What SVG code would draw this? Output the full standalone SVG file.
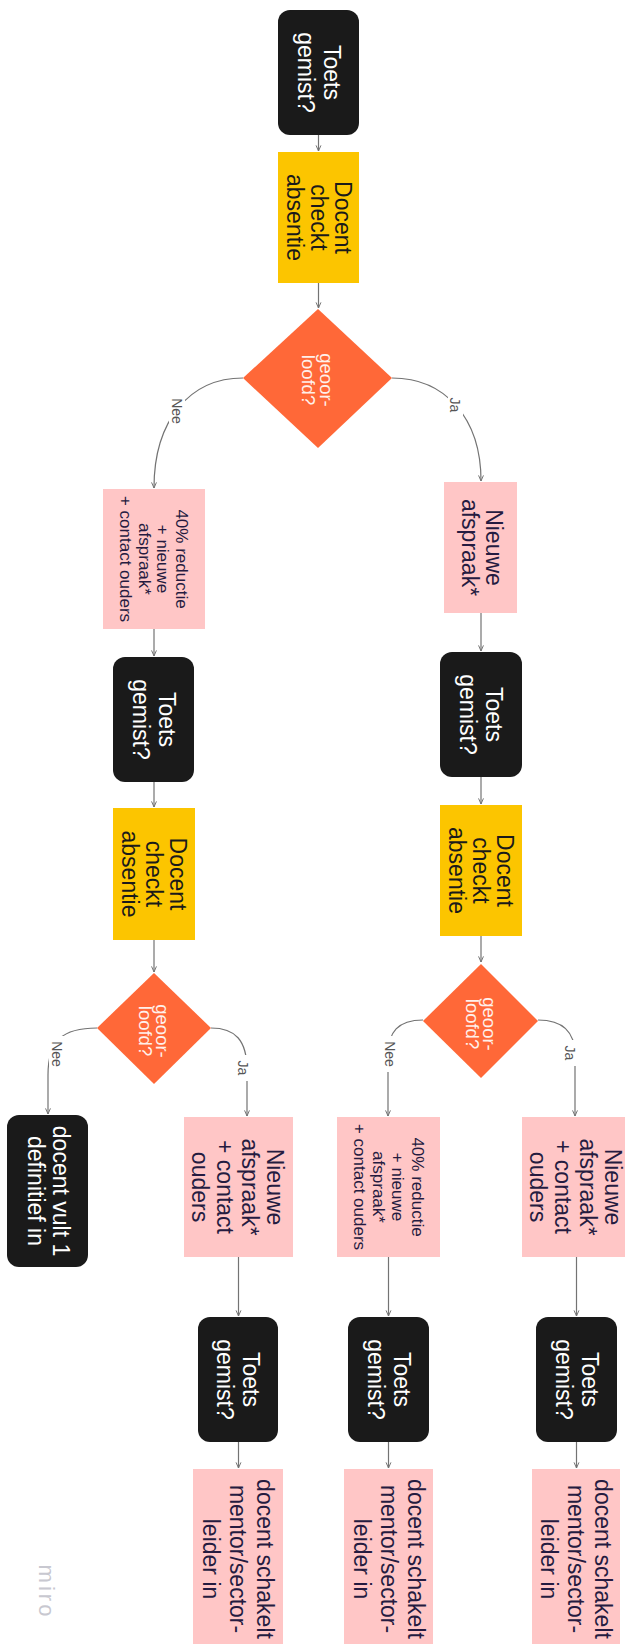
<svg xmlns="http://www.w3.org/2000/svg" width="625" height="1644" viewBox="0 0 625 1644">
<style>
text, tspan { font-family: "Liberation Sans", Arial, sans-serif; dominant-baseline: central; text-anchor: middle; }
.blk { fill: #1a1a1a; }
.yel { fill: #fcc500; }
.pnk { fill: #ffc6c6; }
.dia { fill: #ff6838; }
.tw { fill: #ffffff; font-size: 23px; }
.tk { fill: #1a1a1a; font-size: 23px; }
.tp { fill: #251b40; font-size: 23px; }
.ts { fill: #251b40; font-size: 17px; }
.td { fill: #fff0ea; font-size: 18.5px; }
.lbl { fill: #555555; font-size: 14px; }
.con { fill: none; stroke: #737373; stroke-width: 1.2; }
.bg { fill: #ffffff; }
</style>
<defs>
<marker id="arr" viewBox="0 0 10 10" refX="9" refY="5" markerWidth="7" markerHeight="7" orient="auto" markerUnits="userSpaceOnUse">
<path d="M1,1.5 L9,5 L1,8.5" fill="none" stroke="#737373" stroke-width="1.4"/>
</marker>
</defs>
<rect width="625" height="1644" fill="#ffffff"/>

<g id="connectors">
<path class="con" d="M318.5,135 L318.5,151" marker-end="url(#arr)"/>
<path class="con" d="M318.5,283 L318.5,308" marker-end="url(#arr)"/>
<path class="con" d="M243,378 C190,378 154,420 154,488" marker-end="url(#arr)"/>
<path class="con" d="M392,378 C445,378 481,418 481,481" marker-end="url(#arr)"/>
<path class="con" d="M154,629 L154,656" marker-end="url(#arr)"/>
<path class="con" d="M154,782 L154,807" marker-end="url(#arr)"/>
<path class="con" d="M154,940 L154,972" marker-end="url(#arr)"/>
<path class="con" d="M481,613 L481,651" marker-end="url(#arr)"/>
<path class="con" d="M481,777 L481,804" marker-end="url(#arr)"/>
<path class="con" d="M481,936 L481,962" marker-end="url(#arr)"/>
<path class="con" d="M97,1028 C63,1028 48,1040 48,1075 L48,1114" marker-end="url(#arr)"/>
<path class="con" d="M211,1028 C235,1028 247,1040 247,1070 L247,1116" marker-end="url(#arr)"/>
<path class="con" d="M423,1020 C398,1020 388,1032 388,1055 L388,1116" marker-end="url(#arr)"/>
<path class="con" d="M538,1020 C563,1020 575,1032 575,1055 L575,1116" marker-end="url(#arr)"/>
<path class="con" d="M238.5,1257 L238.5,1316" marker-end="url(#arr)"/>
<path class="con" d="M388.5,1257 L388.5,1316" marker-end="url(#arr)"/>
<path class="con" d="M576.5,1257 L576.5,1316" marker-end="url(#arr)"/>
<path class="con" d="M238.5,1442 L238.5,1468" marker-end="url(#arr)"/>
<path class="con" d="M388.5,1442 L388.5,1468" marker-end="url(#arr)"/>
<path class="con" d="M576.5,1442 L576.5,1468" marker-end="url(#arr)"/>
<g id="labels">
<rect class="bg" x="169" y="393" width="16" height="36"/>
<text class="lbl" transform="translate(177,411) rotate(90)">Nee</text>
<rect class="bg" x="448" y="392" width="15" height="26"/>
<text class="lbl" transform="translate(455,405) rotate(90)">Ja</text>
<rect class="bg" x="49" y="1036" width="16" height="36"/>
<text class="lbl" transform="translate(57,1054) rotate(90)">Nee</text>
<rect class="bg" x="236" y="1055" width="15" height="26"/>
<text class="lbl" transform="translate(243,1068) rotate(90)">Ja</text>
<rect class="bg" x="382" y="1036" width="16" height="36"/>
<text class="lbl" transform="translate(390,1054) rotate(90)">Nee</text>
<rect class="bg" x="563" y="1040" width="15" height="26"/>
<text class="lbl" transform="translate(570,1053) rotate(90)">Ja</text>
</g>
</g>

<g id="n1">
<rect class="blk" x="278" y="10" width="81" height="125" rx="12"/>
<text class="tw" transform="translate(318.5,72.5) rotate(90)"><tspan x="0" y="-13">Toets</tspan><tspan x="0" y="13">gemist?</tspan></text>
</g>
<g id="n2">
<rect class="yel" x="278" y="152" width="81" height="131"/>
<text class="tk" transform="translate(318.5,217.5) rotate(90)"><tspan x="0" y="-24">Docent</tspan><tspan x="0" y="0">checkt</tspan><tspan x="0" y="24">absentie</tspan></text>
</g>
<g id="d1">
<polygon class="dia" points="318,309 392,378 318,448 243,378"/>
<text class="td" transform="translate(318,380) rotate(90)"><tspan x="0" y="-9">geoor-</tspan><tspan x="0" y="9">loofd?</tspan></text>
</g>
<g id="p1">
<rect class="pnk" x="103" y="489" width="102" height="140"/>
<text class="ts" transform="translate(154,559) rotate(90)"><tspan x="0" y="-28">40% reductie</tspan><tspan x="0" y="-9.3">+ nieuwe</tspan><tspan x="0" y="9.3">afspraak*</tspan><tspan x="0" y="28">+ contact ouders</tspan></text>
</g>
<g id="p2">
<rect class="pnk" x="444" y="482" width="73" height="131"/>
<text class="tp" transform="translate(480.5,547.5) rotate(90)"><tspan x="0" y="-13">Nieuwe</tspan><tspan x="0" y="11">afspraak*</tspan></text>
</g>
<g id="bl2">
<rect class="blk" x="113" y="657" width="81" height="125" rx="12"/>
<text class="tw" transform="translate(153.5,719.5) rotate(90)"><tspan x="0" y="-13">Toets</tspan><tspan x="0" y="13">gemist?</tspan></text>
</g>
<g id="yl2">
<rect class="yel" x="113" y="808" width="82" height="132"/>
<text class="tk" transform="translate(154,874) rotate(90)"><tspan x="0" y="-24">Docent</tspan><tspan x="0" y="0">checkt</tspan><tspan x="0" y="24">absentie</tspan></text>
</g>
<g id="d2">
<polygon class="dia" points="154,973 211,1028 154,1084 97,1028"/>
<text class="td" transform="translate(154,1031) rotate(90)"><tspan x="0" y="-8.5">geoor-</tspan><tspan x="0" y="8.5">loofd?</tspan></text>
</g>
<g id="br2">
<rect class="blk" x="440" y="652" width="82" height="125" rx="12"/>
<text class="tw" transform="translate(481,714.5) rotate(90)"><tspan x="0" y="-13">Toets</tspan><tspan x="0" y="13">gemist?</tspan></text>
</g>
<g id="yr2">
<rect class="yel" x="440" y="805" width="82" height="131"/>
<text class="tk" transform="translate(481,870.5) rotate(90)"><tspan x="0" y="-24">Docent</tspan><tspan x="0" y="0">checkt</tspan><tspan x="0" y="24">absentie</tspan></text>
</g>
<g id="d3">
<polygon class="dia" points="481,964 538,1021 481,1078 423,1021"/>
<text class="td" transform="translate(481,1024) rotate(90)"><tspan x="0" y="-8.5">geoor-</tspan><tspan x="0" y="8.5">loofd?</tspan></text>
</g>
<g id="fin">
<rect class="blk" x="7" y="1115" width="81" height="152" rx="12"/>
<text class="tw" transform="translate(47.5,1191) rotate(90)"><tspan x="0" y="-13.5">docent vult 1</tspan><tspan x="0" y="11.5">definitief in</tspan></text>
</g>
<g id="pl3">
<rect class="pnk" x="184" y="1117" width="109" height="140"/>
<text class="tp" transform="translate(238.5,1187) rotate(90)"><tspan x="0" y="-36">Nieuwe</tspan><tspan x="0" y="-11">afspraak*</tspan><tspan x="0" y="14">+ contact</tspan><tspan x="0" y="39">ouders</tspan></text>
</g>
<g id="pm3">
<rect class="pnk" x="337" y="1117" width="103" height="140"/>
<text class="ts" transform="translate(388.5,1187) rotate(90)"><tspan x="0" y="-29">40% reductie</tspan><tspan x="0" y="-9.7">+ nieuwe</tspan><tspan x="0" y="9.7">afspraak*</tspan><tspan x="0" y="29">+ contact ouders</tspan></text>
</g>
<g id="pr3">
<rect class="pnk" x="522" y="1117" width="109" height="140"/>
<text class="tp" transform="translate(576.5,1187) rotate(90)"><tspan x="0" y="-36">Nieuwe</tspan><tspan x="0" y="-11">afspraak*</tspan><tspan x="0" y="14">+ contact</tspan><tspan x="0" y="39">ouders</tspan></text>
</g>
<g id="bl4">
<rect class="blk" x="198" y="1317" width="80" height="125" rx="12"/>
<text class="tw" transform="translate(238,1379.5) rotate(90)"><tspan x="0" y="-13">Toets</tspan><tspan x="0" y="13">gemist?</tspan></text>
</g>
<g id="bm4">
<rect class="blk" x="348" y="1317" width="81" height="125" rx="12"/>
<text class="tw" transform="translate(388.5,1379.5) rotate(90)"><tspan x="0" y="-13">Toets</tspan><tspan x="0" y="13">gemist?</tspan></text>
</g>
<g id="br4">
<rect class="blk" x="536" y="1317" width="81" height="125" rx="12"/>
<text class="tw" transform="translate(576.5,1379.5) rotate(90)"><tspan x="0" y="-13">Toets</tspan><tspan x="0" y="13">gemist?</tspan></text>
</g>
<g id="pl5">
<rect class="pnk" x="193" y="1469" width="90" height="181"/>
<text class="tp" transform="translate(238,1559) rotate(90)"><tspan x="0" y="-27">docent schakelt</tspan><tspan x="0" y="0">mentor/sector-</tspan><tspan x="0" y="27">leider in</tspan></text>
</g>
<g id="pm5">
<rect class="pnk" x="344" y="1469" width="89" height="181"/>
<text class="tp" transform="translate(388.5,1559) rotate(90)"><tspan x="0" y="-27">docent schakelt</tspan><tspan x="0" y="0">mentor/sector-</tspan><tspan x="0" y="27">leider in</tspan></text>
</g>
<g id="pr5">
<rect class="pnk" x="532" y="1469" width="88" height="181"/>
<text class="tp" transform="translate(576,1559) rotate(90)"><tspan x="0" y="-27">docent schakelt</tspan><tspan x="0" y="0">mentor/sector-</tspan><tspan x="0" y="27">leider in</tspan></text>
</g>
<g id="watermark">
<text transform="translate(46,1592) rotate(90)" style="font-size:22px; fill:#c8c8d0; letter-spacing:3px">miro</text>
</g>
</svg>
